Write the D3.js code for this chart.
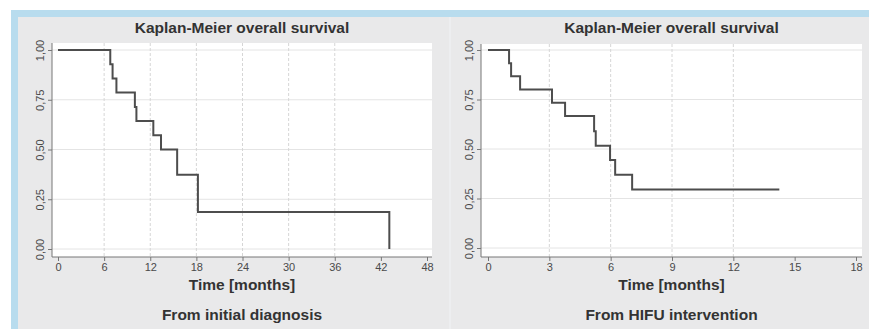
<!DOCTYPE html>
<html lang="en">
<head>
    <meta charset="UTF-8">
    <script src="https://d3js.org/d3.v7.min.js"></script>
    <title>Kaplan-Meier</title>
    <style>
        body { margin: 0; background: #fff; }
        * { font-family: 'Liberation Sans', Arial, sans-serif; }
        .tick text { fill: #4a4a4a; font-size: 11px; }
        .tick line { stroke: #777; }
        .ttl { font-weight: bold; fill: #333; font-size: 15.5px; }
    </style>
</head>
<body>
<svg id="canvas" width="869" height="329"></svg>
<script>
// survival steps: time (months) and survival after the step
let diagTimes = [0, 6.8, 7.1, 7.6, 10.0, 10.2, 12.4, 13.4, 15.5, 18.2, 43.1]
let diagSurv  = [1, 0.929, 0.857, 0.786, 0.714, 0.643, 0.571, 0.5, 0.373, 0.186, 0]

let hifuTimes = [0, 1.03, 1.13, 1.57, 3.13, 3.77, 5.19, 5.27, 5.97, 6.22, 7.05, 14.25]
let hifuSurv  = [1, 0.933, 0.867, 0.8, 0.733, 0.667, 0.59, 0.517, 0.444, 0.37, 0.296, 0.296]

let yTicks = [0, 0.25, 0.5, 0.75, 1]
let diagXTicks = [0, 6, 12, 18, 24, 30, 36, 42, 48]
let diagGrid = [6, 12, 18, 24, 30, 36]
let hifuXTicks = [0, 3, 6, 9, 12, 15, 18]
let hifuGrid = [3, 6, 9, 12]

let title = 'Kaplan-Meier overall survival'
let xTitle = 'Time [months]'

let svg = d3.select('#canvas')

// frame: blue band + gray graph region
svg.append('rect').attr('x', 11).attr('y', 10).attr('width', 858).attr('height', 319).attr('fill', '#b8dcee')
svg.append('rect').attr('x', 18).attr('y', 17).attr('width', 851).attr('height', 312).attr('fill', '#e9e9ea')
svg.append('line').attr('x1', 450).attr('x2', 450).attr('y1', 17).attr('y2', 329)
    .attr('stroke', '#edeef0').attr('stroke-width', 2)

let fmt = d => d3.format('.2f')(d).replace('.', ',')

let drawPanel = (p) => {
    let g = svg.append('g')
    let x = d3.scaleLinear().domain([0, p.xMax]).range(p.xRange)
    let y = d3.scaleLinear().domain([0, 1]).range(p.yRange)

    // plot region
    g.append('rect')
        .attr('x', p.box[0]).attr('y', p.box[1])
        .attr('width', p.box[2] - p.box[0]).attr('height', p.box[3] - p.box[1])
        .attr('fill', '#fff')

    g.selectAll('.hgrid').data(yTicks).enter().append('line')
        .attr('x1', p.box[0]).attr('x2', p.box[2])
        .attr('y1', d => y(d)).attr('y2', d => y(d))
        .attr('stroke', '#e4e4e4').attr('stroke-width', 1)

    g.selectAll('.vgrid').data(p.grid).enter().append('line')
        .attr('x1', d => x(d)).attr('x2', d => x(d))
        .attr('y1', p.box[1]).attr('y2', p.box[3])
        .attr('stroke', '#d6d6d6').attr('stroke-width', 1).attr('stroke-dasharray', '3,2')

    // axes
    let ya = g.append('g').attr('transform', `translate(${p.box[0]},0)`)
        .call(d3.axisLeft(y).tickValues(yTicks).tickFormat(fmt).tickSize(4).tickPadding(3))
    ya.select('.domain').remove()
    ya.selectAll('.tick text')
        .attr('transform', 'rotate(-90)')
        .attr('x', 0).attr('y', -8).attr('dy', 0)
        .attr('text-anchor', 'middle')

    let xa = g.append('g').attr('transform', `translate(0,${p.box[3]})`)
        .call(d3.axisBottom(x).tickValues(p.ticks).tickSize(4).tickPadding(2))
    xa.select('.domain').remove()

    g.append('line').attr('x1', p.box[0]).attr('x2', p.box[0])
        .attr('y1', p.box[1]).attr('y2', p.box[3]).attr('stroke', '#777')
    g.append('line').attr('x1', p.box[0]).attr('x2', p.box[2])
        .attr('y1', p.box[3]).attr('y2', p.box[3]).attr('stroke', '#777')

    // survival curve
    let pts = p.times.map((t, i) => [t, p.surv[i]])
    g.append('path')
        .datum(pts)
        .attr('d', d3.line().x(d => x(d[0])).y(d => y(d[1])).curve(d3.curveStepAfter))
        .attr('fill', 'none').attr('stroke', '#4d4d4d').attr('stroke-width', 2)

    let cx = (p.box[0] + p.box[2]) / 2
    g.append('text').attr('class', 'ttl').attr('x', cx).attr('y', 33).attr('text-anchor', 'middle').text(title)
    g.append('text').attr('class', 'ttl').attr('x', cx).attr('y', 290).attr('text-anchor', 'middle').text(xTitle)
    g.append('text').attr('class', 'ttl').attr('x', cx).attr('y', 320).attr('text-anchor', 'middle').text(p.sub)
}

drawPanel({
    xMax: 48, xRange: [58, 427], yRange: [249, 50], box: [52, 43, 432, 257],
    ticks: diagXTicks, grid: diagGrid, times: diagTimes, surv: diagSurv,
    sub: 'From initial diagnosis'
})

drawPanel({
    xMax: 18, xRange: [488, 856], yRange: [248, 50], box: [481, 44, 862, 257],
    ticks: hifuXTicks, grid: hifuGrid, times: hifuTimes, surv: hifuSurv,
    sub: 'From HIFU intervention'
})
</script>
</body>
</html>
